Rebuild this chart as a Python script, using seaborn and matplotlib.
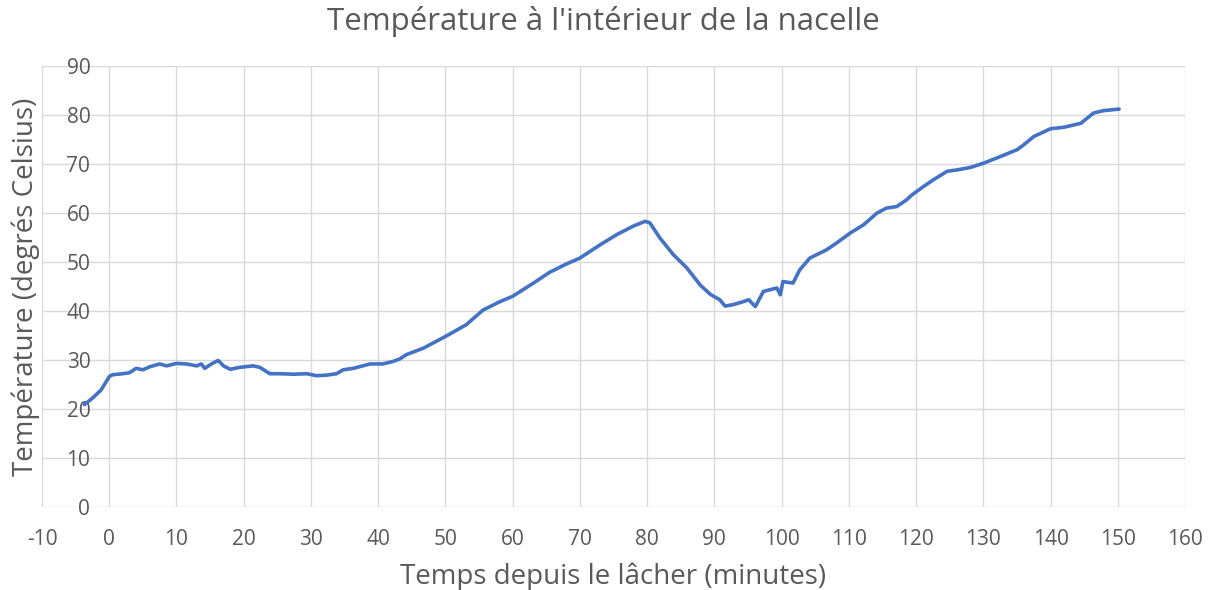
import matplotlib
matplotlib.use("Agg")
import matplotlib.pyplot as plt
import seaborn as sns
import pandas as pd

# Data
temps_min = [-3.7, -2.5, -1.2, 0, 0.5, 2, 3, 4, 5, 6, 7.5, 8.5, 10, 11.5, 13, 13.7, 14.2,
             15.2, 16.2, 17, 18, 19.4, 21.4, 22.4, 23.9, 25.4, 27.4, 29.4, 30.8, 32.3,
             33.8, 34.8, 36.3, 38.8, 40.7, 42.2, 43.2, 44.2, 46.7, 48.9, 50, 53.1, 55.6,
             58.1, 60, 63.1, 65.5, 68, 70, 73, 75.5, 77.9, 79.7, 80.4, 81.9, 83.9, 85.9,
             87.9, 89.4, 90.8, 91.6, 92.8, 94.3, 95.1, 96.1, 97.3, 99.3, 99.8, 100.2,
             101.7, 102.7, 104.2, 106.7, 108.2, 110.2, 112.2, 114.2, 115.6, 117.1, 118.6,
             119.4, 121.1, 122.6, 124.6, 126.1, 128.1, 130.1, 132.5, 135, 136, 137.5, 140,
             142, 144.5, 146.4, 147.9, 150.2]
temperature = [20.9, 22.2, 23.9, 26.6, 27.0, 27.2, 27.4, 28.3, 28.0, 28.6, 29.2, 28.8, 29.3,
               29.2, 28.8, 29.2, 28.3, 29.2, 29.9, 28.8, 28.1, 28.5, 28.8, 28.5, 27.2, 27.2,
               27.1, 27.2, 26.8, 26.9, 27.2, 28.0, 28.3, 29.2, 29.2, 29.7, 30.2, 31.1, 32.4,
               34.0, 34.8, 37.2, 40.2, 41.9, 43.0, 45.7, 47.9, 49.6, 50.8, 53.5, 55.6, 57.3,
               58.3, 58.0, 54.9, 51.5, 48.8, 45.3, 43.4, 42.3, 41.0, 41.3, 41.9, 42.3, 40.9,
               44.0, 44.7, 43.3, 46.0, 45.7, 48.4, 50.8, 52.5, 53.9, 55.9, 57.6, 60.0, 61.0,
               61.3, 62.7, 63.7, 65.4, 66.8, 68.5, 68.8, 69.3, 70.2, 71.5, 72.9, 73.9, 75.6,
               77.2, 77.5, 78.3, 80.4, 80.9, 81.2]
x_ticks = list(range(-10, 161, 10))
y_ticks = list(range(0, 91, 10))

title = "Température à l'intérieur de la nacelle"
x_label = "Temps depuis le lâcher (minutes)"
y_label = "Température (degrés Celsius)"

sns.set_style("white")
plt.rcParams['font.family'] = ['Open Sans', 'DejaVu Sans']
plt.rcParams['axes.unicode_minus'] = False
text_color = "#595959"
grid_color = "#D9D9D9"
line_color = "#4472C4"

df = pd.DataFrame({"t": temps_min, "T": temperature})

fig = plt.figure(figsize=(12.13, 5.90), dpi=100)
ax = fig.add_axes([42 / 1213, 1 - 507 / 590, (1185 - 42) / 1213, (507 - 66) / 590])

sns.lineplot(data=df, x="t", y="T", ax=ax, sort=False, estimator=None,
             color=line_color, linewidth=2.6)

ax.set_xlim(-10, 160)
ax.set_ylim(0, 90)
ax.set_xticks(x_ticks)
ax.set_yticks(y_ticks)
ax.grid(True, color=grid_color, linewidth=1.0)
ax.set_axisbelow(True)
for s in ax.spines.values():
    s.set_visible(False)

# vertical axis crosses at the first data time, labels sit there
ax.spines['left'].set_position(('data', -2.6))
ax.tick_params(axis='both', length=0, colors=text_color, labelsize=15)
ax.tick_params(axis='y', pad=1)
ax.tick_params(axis='x', pad=16)

ax.set_xlabel(x_label, fontsize=20, color=text_color)
ax.set_ylabel(y_label, fontsize=20, color=text_color)
ax.xaxis.set_label_coords(0.5, -0.125)
ax.yaxis.set_label_coords(-0.002, 0.5)

fig.suptitle(title, x=603 / 1213, y=1 - 6 / 590, va='top', fontsize=22.5, color=text_color)

fig.savefig("out.png", dpi=100, facecolor="white")
